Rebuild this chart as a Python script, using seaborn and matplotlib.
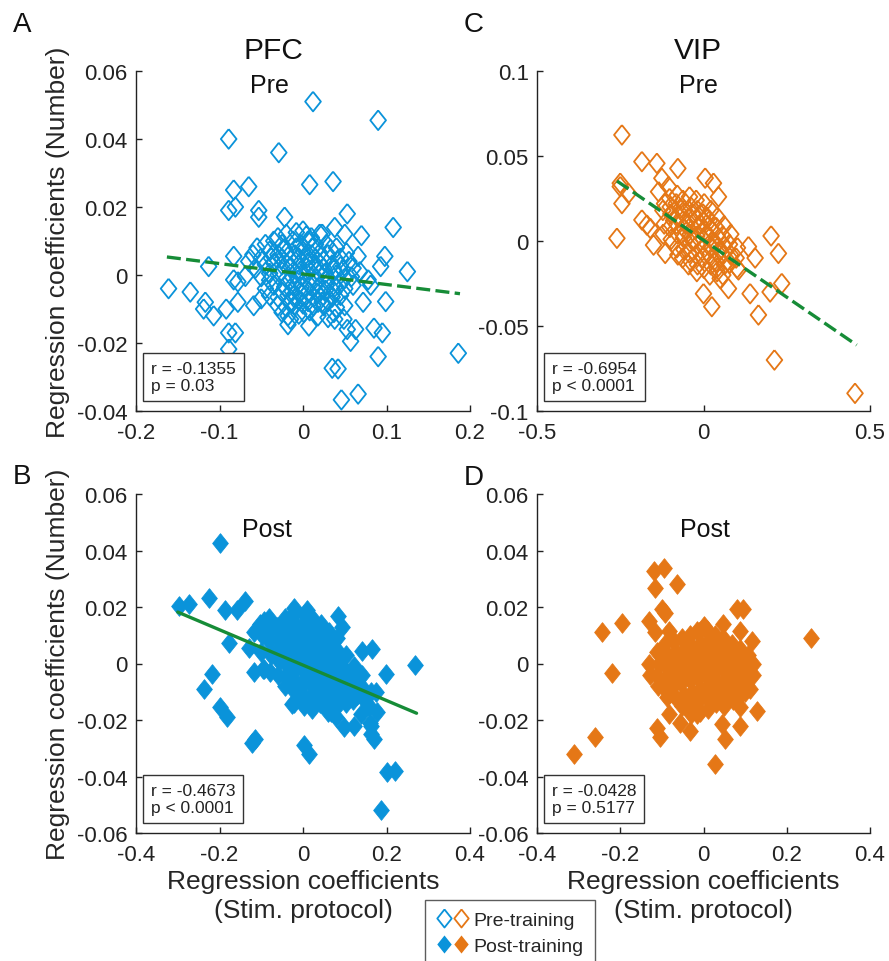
import numpy as np
import pandas as pd
import matplotlib
matplotlib.use("Agg")
import matplotlib.pyplot as plt
from matplotlib.lines import Line2D
from matplotlib.legend_handler import HandlerTuple
import seaborn as sns

# ---------------------------
# Data
# ---------------------------
# PFC, pre-training (open blue diamonds)
pfc_pre = [
    (0.012, 0.051), (0.090, 0.0455), (-0.089, 0.040), (-0.029, 0.036), (0.008, 0.0266),
    (0.036, 0.0275), (-0.065, 0.026), (-0.083, 0.025), (-0.081, 0.020), (-0.089, 0.019),
    (-0.053, 0.019), (-0.053, 0.017), (-0.022, 0.017), (0.053, 0.018), (0.038, 0.014),
    (0.050, 0.012), (0.070, 0.0116), (0.108, 0.014), (0.023, 0.012), (0.125, 0.001),
    (0.098, 0.0055), (0.093, 0.0025), (0.066, 0.0055), (0.068, 0.001), (-0.113, 0.0025),
    (-0.083, 0.0055), (-0.161, -0.004), (-0.135, -0.005), (-0.117, -0.008), (-0.119, -0.010),
    (-0.107, -0.012), (-0.092, -0.010), (-0.078, -0.008), (-0.059, -0.009), (-0.083, -0.0014),
    (-0.078, -0.002), (-0.069, -0.0004), (-0.025, -0.011), (-0.015, -0.013), (-0.018, -0.0146),
    (0.001, -0.011), (0.007, -0.015), (0.023, -0.008), (0.037, -0.011), (0.049, -0.013),
    (0.053, -0.016), (0.057, -0.0195), (0.063, -0.016), (0.072, -0.008), (0.099, -0.0078),
    (0.085, -0.0156), (0.095, -0.017), (0.090, -0.024), (0.186, -0.023), (-0.089, -0.017),
    (-0.081, -0.017), (-0.089, -0.0218), (0.035, -0.0274), (0.042, -0.0276), (0.066, -0.035),
    (0.046, -0.0367), (0.038, -0.013), (0.078, -0.0014), (0.081, -0.003),
    # dense core
    (-0.020, 0.012), (0.000, 0.013), (0.010, 0.011), (-0.030, 0.011), (0.020, 0.012),
    (-0.045, 0.009), (-0.035, 0.010), (-0.025, 0.009), (-0.012, 0.010), (-0.003, 0.009),
    (0.006, 0.010), (0.015, 0.009), (0.028, 0.009), (0.040, 0.008), (-0.055, 0.008),
    (-0.060, 0.006), (-0.050, 0.005), (-0.040, 0.007), (-0.030, 0.006), (-0.020, 0.0065),
    (-0.010, 0.006), (0.000, 0.007), (0.010, 0.006), (0.020, 0.0065), (0.030, 0.006),
    (0.045, 0.005), (0.055, 0.004), (-0.065, 0.004), (-0.057, 0.002), (-0.045, 0.003),
    (-0.035, 0.0035), (-0.025, 0.003), (-0.015, 0.0025), (-0.005, 0.003), (0.005, 0.0035),
    (0.015, 0.003), (0.025, 0.002), (0.035, 0.003), (0.048, 0.0015), (0.060, 0.002),
    (-0.050, -0.0005), (-0.040, 0.0005), (-0.030, 0.000), (-0.020, -0.001), (-0.010, 0.0005),
    (0.000, 0.000), (0.010, -0.0005), (0.020, 0.0005), (0.030, -0.001), (0.040, 0.000),
    (0.050, -0.001), (0.058, -0.0005), (-0.006, -0.0015), (0.016, -0.002), (-0.045, -0.004),
    (-0.035, -0.003), (-0.022, -0.0035), (-0.012, -0.003), (-0.002, -0.0035), (0.008, -0.003),
    (0.018, -0.004), (0.028, -0.003), (0.038, -0.0035), (0.050, -0.004), (0.060, -0.003),
    (-0.040, -0.006), (-0.030, -0.0065), (-0.018, -0.006), (-0.008, -0.0065), (0.003, -0.006),
    (0.013, -0.0065), (0.024, -0.006), (0.035, -0.0065), (0.045, -0.006), (-0.050, -0.007),
    (-0.030, -0.009), (-0.020, -0.0095), (-0.010, -0.009), (0.000, -0.0085), (0.012, -0.009),
    (0.025, -0.009), (0.040, -0.0095), (0.050, -0.009), (-0.018, -0.012), (0.018, -0.012),
    (0.030, -0.0125), (-0.005, -0.0115), (0.004, 0.0115), (-0.008, 0.0125),
    (-0.015, 0.0045), (-0.005, 0.0050), (0.005, 0.0050), (0.015, 0.0048), (0.025, 0.0042),
    (-0.025, 0.0048), (-0.015, -0.0015), (-0.003, 0.0012), (0.007, 0.0015), (0.017, 0.0012),
    (0.027, 0.0005), (0.037, 0.0015), (-0.026, 0.0012), (-0.013, -0.0048), (-0.003, -0.0050),
    (0.007, -0.0048), (0.017, -0.0052), (0.027, -0.0045), (0.037, -0.0050), (-0.025, -0.0050),
    (-0.015, -0.0080), (-0.005, -0.0075), (0.006, -0.0078), (0.018, -0.0080), (0.030, -0.0078),
    (0.043, -0.0030), (0.045, 0.0025), (0.033, 0.0075), (0.011, 0.0080), (-0.008, 0.0080),
    (-0.022, 0.0078), (-0.038, 0.0050), (-0.040, -0.0015), (0.052, 0.0065), (0.008, -0.0105),
]

# PFC, post-training (filled blue diamonds)
pfc_post = [
    (-0.198, 0.0427), (-0.298, 0.0204), (-0.274, 0.021), (-0.226, 0.0233), (-0.186, 0.019),
    (-0.158, 0.019), (-0.138, 0.022), (-0.178, 0.0074), (-0.130, 0.0056), (-0.218, -0.0038),
    (-0.238, -0.009), (-0.198, -0.0155), (-0.182, -0.019), (-0.122, -0.028), (-0.114, -0.0267),
    (0.002, -0.029), (0.014, -0.032), (0.098, -0.0226), (0.122, -0.022), (0.166, 0.005),
    (0.142, 0.0045), (0.198, -0.0038), (0.268, -0.0006), (0.084, 0.0168), (0.094, 0.013),
    (0.010, 0.019), (-0.022, 0.0198), (-0.094, 0.015), (-0.118, 0.011), (-0.118, -0.003),
    (-0.094, -0.002), (0.170, -0.0267), (0.162, -0.022), (0.202, -0.0385), (0.220, -0.038),
    (0.186, -0.052), (0.174, -0.0102), (0.178, -0.0173), (-0.026, -0.0144), (0.026, -0.0138),
    (0.066, -0.0173),
    # dense core
    (-0.103, 0.014), (-0.098, 0.010), (-0.101, 0.004), (-0.096, -0.002),
    (-0.082, 0.016), (-0.078, 0.012), (-0.081, 0.008), (-0.077, 0.003), (-0.080, -0.003),
    (-0.062, 0.013), (-0.058, 0.009), (-0.061, 0.005), (-0.057, 0.001), (-0.060, -0.004),
    (-0.042, 0.016), (-0.038, 0.012), (-0.041, 0.008), (-0.037, 0.004), (-0.040, 0.000),
    (-0.039, -0.004), (-0.043, -0.008), (-0.022, 0.018), (-0.018, 0.014), (-0.021, 0.010),
    (-0.017, 0.006), (-0.020, 0.002), (-0.019, -0.002), (-0.022, -0.006), (-0.018, -0.010),
    (-0.021, -0.014), (0.002, 0.017), (-0.002, 0.013), (0.001, 0.009), (0.003, 0.005),
    (-0.001, 0.001), (0.002, -0.003), (-0.002, -0.007), (0.001, -0.011), (0.003, -0.015),
    (0.022, 0.016), (0.018, 0.012), (0.021, 0.008), (0.019, 0.004), (0.023, 0.000),
    (0.018, -0.004), (0.022, -0.008), (0.019, -0.012), (0.021, -0.016), (0.042, 0.014),
    (0.038, 0.010), (0.041, 0.006), (0.039, 0.002), (0.043, -0.002), (0.038, -0.006),
    (0.041, -0.010), (0.040, -0.014), (0.062, 0.011), (0.058, 0.007), (0.061, 0.003),
    (0.059, -0.001), (0.063, -0.005), (0.058, -0.009), (0.061, -0.013), (0.060, -0.017),
    (0.082, 0.009), (0.078, 0.005), (0.081, 0.001), (0.079, -0.003), (0.083, -0.007),
    (0.078, -0.011), (0.081, -0.015), (0.080, -0.019), (0.102, 0.003), (0.098, -0.002),
    (0.101, -0.006), (0.099, -0.010), (0.103, -0.014), (0.122, -0.001), (0.118, -0.005),
    (0.121, -0.009), (0.119, -0.013), (0.142, -0.004), (0.138, -0.008), (0.141, -0.012),
    (0.139, -0.018), (0.162, -0.010), (0.158, -0.015), (0.161, -0.021), (0.164, -0.025),
    (-0.030, 0.010), (-0.010, 0.004), (0.010, -0.001), (0.030, -0.005), (0.050, 0.004),
    (0.070, -0.008), (-0.050, 0.006), (0.012, 0.014), (0.032, 0.012), (-0.010, -0.009),
    (0.050, -0.012), (0.090, -0.012), (0.110, -0.004), (0.130, -0.011), (0.070, 0.000),
]

# VIP, pre-training (open orange diamonds)
vip_pre = [
    (-0.245, 0.0624), (-0.185, 0.0467), (-0.140, 0.0457), (-0.077, 0.0427), (-0.125, 0.0369),
    (-0.105, 0.032), (-0.250, 0.034), (-0.250, 0.032), (-0.225, 0.028), (-0.245, 0.022),
    (-0.260, 0.0016), (0.005, 0.037), (0.030, 0.034), (0.045, 0.026), (-0.135, 0.029),
    (-0.185, 0.0124), (-0.170, 0.0094), (-0.160, 0.0075), (-0.150, -0.0024), (-0.115, -0.0073),
    (-0.077, -0.0082), (-0.045, -0.014), (-0.020, -0.018), (0.000, -0.031), (0.025, -0.0386),
    (0.075, -0.028), (0.135, -0.0033), (0.155, -0.010), (0.105, -0.017), (0.203, 0.003),
    (0.225, -0.0073), (0.235, -0.025), (0.200, -0.030), (0.140, -0.031), (0.165, -0.0435),
    (0.213, -0.070), (0.455, -0.0896), (0.050, -0.022), (0.040, -0.016),
    # dense core
    (-0.122, 0.018), (-0.118, 0.010), (-0.121, 0.004), (-0.117, 0.022),
    (-0.102, 0.025), (-0.098, 0.016), (-0.101, 0.008), (-0.097, 0.001), (-0.100, 0.020),
    (-0.082, 0.022), (-0.078, 0.015), (-0.081, 0.010), (-0.077, 0.004), (-0.080, -0.004),
    (-0.079, 0.027), (-0.062, 0.024), (-0.058, 0.018), (-0.061, 0.012), (-0.057, 0.007),
    (-0.060, 0.002), (-0.059, -0.005), (-0.063, -0.010), (-0.042, 0.026), (-0.038, 0.020),
    (-0.041, 0.014), (-0.037, 0.009), (-0.040, 0.004), (-0.039, -0.001), (-0.043, -0.007),
    (-0.038, -0.012), (-0.022, 0.024), (-0.018, 0.018), (-0.021, 0.013), (-0.017, 0.008),
    (-0.020, 0.003), (-0.019, -0.002), (-0.022, -0.008), (-0.018, -0.014), (0.002, 0.022),
    (-0.002, 0.016), (0.001, 0.011), (0.003, 0.006), (-0.001, 0.001), (0.002, -0.004),
    (-0.002, -0.010), (0.001, -0.016), (0.022, 0.018), (0.018, 0.012), (0.021, 0.007),
    (0.019, 0.002), (0.023, -0.003), (0.018, -0.008), (0.022, -0.014), (0.019, -0.020),
    (0.042, 0.014), (0.038, 0.008), (0.041, 0.003), (0.039, -0.002), (0.043, -0.007),
    (0.038, -0.012), (0.041, -0.018), (0.062, 0.009), (0.058, 0.003), (0.061, -0.003),
    (0.059, -0.008), (0.063, -0.014), (0.058, -0.020), (0.082, 0.004), (0.078, -0.002),
    (0.081, -0.008), (0.079, -0.013), (0.102, -0.004), (0.098, -0.010), (0.101, -0.016),
    (-0.030, 0.016), (-0.010, 0.010), (0.010, 0.004), (0.030, -0.001), (-0.050, 0.010),
    (-0.070, 0.019), (0.050, -0.005), (-0.090, 0.012), (0.010, 0.014), (-0.030, 0.000),
]

# VIP, post-training (filled orange diamonds)
vip_post = [
    (-0.096, 0.0339), (-0.120, 0.0327), (-0.116, 0.0268), (-0.064, 0.028), (-0.100, 0.0192),
    (-0.092, 0.018), (-0.132, 0.0151), (-0.196, 0.0145), (-0.244, 0.011), (-0.116, 0.011),
    (-0.084, 0.0115), (-0.220, -0.0035), (-0.260, -0.026), (-0.312, -0.032), (-0.112, -0.023),
    (-0.104, -0.026), (-0.084, -0.018), (-0.056, -0.021), (-0.032, -0.0238), (0.028, -0.0355),
    (0.052, -0.0267), (0.044, -0.0214), (0.088, -0.022), (0.128, -0.0167), (0.088, -0.0155),
    (0.080, 0.0192), (0.096, 0.0192), (0.088, 0.0115), (0.116, 0.008), (0.258, 0.009),
    (0.048, 0.0139), (0.000, 0.0133), (-0.016, 0.0115), (-0.016, -0.018),
    # dense core
    (-0.132, 0.000), (-0.128, -0.004), (-0.112, 0.004), (-0.108, 0.000), (-0.111, -0.004),
    (-0.109, -0.008), (-0.092, 0.007), (-0.088, 0.003), (-0.091, -0.001), (-0.089, -0.005),
    (-0.093, -0.009), (-0.088, -0.012), (-0.072, 0.008), (-0.068, 0.004), (-0.071, 0.000),
    (-0.069, -0.004), (-0.073, -0.008), (-0.068, -0.012), (-0.052, 0.009), (-0.048, 0.005),
    (-0.051, 0.001), (-0.049, -0.003), (-0.053, -0.007), (-0.048, -0.011), (-0.051, -0.015),
    (-0.032, 0.010), (-0.028, 0.006), (-0.031, 0.002), (-0.029, -0.002), (-0.033, -0.006),
    (-0.028, -0.010), (-0.031, -0.014), (-0.029, -0.018), (-0.012, 0.011), (-0.008, 0.007),
    (-0.011, 0.003), (-0.009, -0.001), (-0.013, -0.005), (-0.008, -0.009), (-0.011, -0.013),
    (-0.009, -0.017), (0.008, 0.012), (0.012, 0.008), (0.009, 0.004), (0.011, 0.000),
    (0.007, -0.004), (0.012, -0.008), (0.009, -0.012), (0.011, -0.016), (0.028, 0.010),
    (0.032, 0.006), (0.029, 0.002), (0.031, -0.002), (0.027, -0.006), (0.032, -0.010),
    (0.029, -0.014), (0.048, 0.009), (0.052, 0.005), (0.049, 0.001), (0.051, -0.003),
    (0.047, -0.007), (0.052, -0.011), (0.049, -0.015), (0.068, 0.007), (0.072, 0.003),
    (0.069, -0.001), (0.071, -0.005), (0.067, -0.009), (0.072, -0.013), (0.088, 0.005),
    (0.092, 0.001), (0.089, -0.003), (0.091, -0.007), (0.087, -0.011), (0.108, 0.003),
    (0.112, -0.001), (0.109, -0.005), (0.111, -0.009), (0.120, -0.004), (0.118, 0.000),
    (-0.040, 0.008), (-0.020, 0.004), (0.000, 0.000), (0.020, -0.004), (0.040, -0.008),
    (0.060, 0.000), (-0.060, -0.002), (0.000, -0.010), (0.020, 0.008), (0.080, -0.007),
    (-0.080, 0.000), (0.040, 0.004), (-0.020, -0.012), (0.100, -0.010),
]

# fitted lines (end points)
fit_pfc_pre_x = [-0.163, 0.188]
fit_pfc_pre_y = [0.0053, -0.0055]
fit_vip_pre_x = [-0.26, 0.46]
fit_vip_pre_y = [0.0353, -0.0612]
fit_pfc_post_x = [-0.30, 0.272]
fit_pfc_post_y = [0.0182, -0.0176]

stats_text = {
    "A": "r = -0.1355\np = 0.03",
    "C": "r = -0.6954\np < 0.0001",
    "B": "r = -0.4673\np < 0.0001",
    "D": "r = -0.0428\np = 0.5177",
}

pfc_pre_xticks = [-0.2, -0.1, 0, 0.1, 0.2]
pfc_pre_yticks = [-0.04, -0.02, 0, 0.02, 0.04, 0.06]
vip_pre_xticks = [-0.5, 0, 0.5]
vip_pre_yticks = [-0.1, -0.05, 0, 0.05, 0.1]
post_xticks = [-0.4, -0.2, 0, 0.2, 0.4]
post_yticks = [-0.06, -0.04, -0.02, 0, 0.02, 0.04, 0.06]

# ---------------------------
# Style
# ---------------------------
sns.set_theme(style="ticks")
plt.rcParams["font.family"] = ["Liberation Sans", "DejaVu Sans"]

blue = "#0A93DA"
orange = "#E57716"
green = "#168C37"
diamond = [(0, 1), (0.8, 0), (0, -1), (-0.8, 0), (0, 1)]

W, H = 889, 962
fig = plt.figure(figsize=(W / 100, H / 100), dpi=100)


def px_axes(left, top, right, bottom):
    return fig.add_axes([left / W, 1 - bottom / H, (right - left) / W, (bottom - top) / H])


def tick_fmt(v):
    if v == 0:
        return "0"
    return f"{v:g}"


def draw_panel(ax, pts, color, filled, xlim, ylim, xticks, yticks, stats):
    df = pd.DataFrame(pts, columns=["x", "y"])
    sns.scatterplot(
        data=df, x="x", y="y", ax=ax, marker=diamond, s=200,
        facecolor=color if filled else "none", edgecolor=color,
        linewidth=0.6 if filled else 1.3, zorder=2,
    )
    ax.set_xlim(xlim)
    ax.set_ylim(ylim)
    ax.set_xticks(xticks)
    ax.set_yticks(yticks)
    ax.set_xticklabels([tick_fmt(v) for v in xticks], fontsize=16)
    ax.set_yticklabels([tick_fmt(v) for v in yticks], fontsize=16)
    ax.set_xlabel("")
    ax.set_ylabel("")
    sns.despine(ax=ax)
    for s in ["left", "bottom"]:
        ax.spines[s].set_linewidth(1.0)
        ax.spines[s].set_color("#222222")
    ax.tick_params(axis="x", direction="in", length=4, width=1.0, colors="#222222", pad=8)
    ax.tick_params(axis="y", direction="in", length=4, width=1.0, colors="#222222", pad=6)
    ax.text(0.045, 0.053, stats, transform=ax.transAxes, fontsize=12.5,
            ha="left", va="bottom", linespacing=1.2, color="#222222",
            bbox=dict(boxstyle="square,pad=0.45", fc="white", ec="#333333", lw=1.0),
            zorder=5)


def draw_fit(ax, xs, ys, dashed):
    sns.lineplot(x=xs, y=ys, ax=ax, color=green, lw=2.4, sort=False,
                 estimator=None, linestyle="--" if dashed else "-", zorder=4)
    if dashed:
        ax.lines[-1].set_dashes((4.2, 1.6))


# ---------------------------
# Panels
# ---------------------------
axA = px_axes(136, 72, 470, 412)
draw_panel(axA, pfc_pre, blue, False, (-0.2, 0.2), (-0.04, 0.06),
           pfc_pre_xticks, pfc_pre_yticks, stats_text["A"])
draw_fit(axA, fit_pfc_pre_x, fit_pfc_pre_y, True)

axC = px_axes(537, 72, 870, 412)
draw_panel(axC, vip_pre, orange, False, (-0.5, 0.5), (-0.1, 0.1),
           vip_pre_xticks, vip_pre_yticks, stats_text["C"])
draw_fit(axC, fit_vip_pre_x, fit_vip_pre_y, True)

axB = px_axes(136, 495, 470, 834)
draw_panel(axB, pfc_post, blue, True, (-0.4, 0.4), (-0.06, 0.06),
           post_xticks, post_yticks, stats_text["B"])
draw_fit(axB, fit_pfc_post_x, fit_pfc_post_y, False)

axD = px_axes(537, 495, 870, 834)
draw_panel(axD, vip_post, orange, True, (-0.4, 0.4), (-0.06, 0.06),
           post_xticks, post_yticks, stats_text["D"])

# axis labels
for ax in [axA, axB]:
    ax.set_ylabel("Regression coefficients (Number)", fontsize=19, labelpad=5)
for ax in [axB, axD]:
    ax.set_xlabel("Regression coefficients\n(Stim. protocol)", fontsize=19,
                  labelpad=3, linespacing=1.25)

# titles and panel letters
def ftext(x, y, s, size):
    fig.text(x / W, 1 - y / H, s, fontsize=size, ha="center", va="center", color="#111111")

ftext(273, 51, "PFC", 21.5)
ftext(269, 86, "Pre", 18)
ftext(698, 51, "VIP", 21.5)
ftext(698, 86, "Pre", 18)
ftext(267, 530, "Post", 18)
ftext(705, 530, "Post", 18)
ftext(22, 25, "A", 20)
ftext(474, 25, "C", 20)
ftext(22, 477, "B", 20)
ftext(474, 478, "D", 20)

# legend
h_pre = (Line2D([], [], ls="none", marker=diamond, ms=13, mfc="none", mec=blue, mew=1.3),
         Line2D([], [], ls="none", marker=diamond, ms=13, mfc="none", mec=orange, mew=1.3))
h_post = (Line2D([], [], ls="none", marker=diamond, ms=13, mfc=blue, mec=blue, mew=0),
          Line2D([], [], ls="none", marker=diamond, ms=13, mfc=orange, mec=orange, mew=0))
leg = fig.legend([h_pre, h_post], ["Pre-training", "Post-training"],
                 handler_map={tuple: HandlerTuple(ndivide=None, pad=0.15)},
                 loc="upper left", bbox_to_anchor=(425 / W, 1 - 901 / H),
                 fontsize=14, frameon=True, fancybox=False, handlelength=1.6,
                 handletextpad=0.3, borderpad=0.6, labelspacing=0.4,
                 borderaxespad=0)
leg.get_frame().set_edgecolor("#333333")
leg.get_frame().set_linewidth(1.0)

fig.savefig("out.png", dpi=100)
